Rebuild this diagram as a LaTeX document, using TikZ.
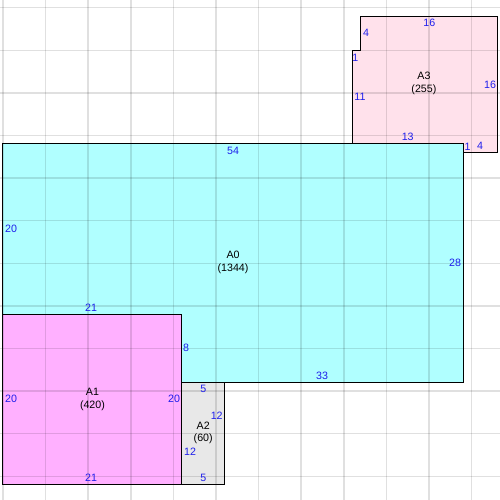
\documentclass[tikz,border=0pt]{standalone}
\usepackage{fontspec}
\setmainfont{Liberation Sans}

\definecolor{areaA0}{RGB}{176,255,255}
\definecolor{areaA1}{RGB}{255,176,255}
\definecolor{areaA2}{RGB}{232,232,232}
\definecolor{areaA3}{RGB}{255,225,235}
\definecolor{sidenum}{RGB}{30,30,235}

\tikzset{
  gridline/.style={color=black, opacity=0.12, line width=1.1pt},
  outline/.style={draw=black, line width=0.75pt},
  sidelabel/.style={text=sidenum, inner sep=0pt, font=\fontsize{8}{9.5}\selectfont},
  arealabel/.style={text=black, inner sep=0pt, align=center, font=\fontsize{8}{9.5}\selectfont}
}

\begin{document}
\begin{tikzpicture}[x=0.2246cm, y=-0.2246cm]

    \useasboundingbox (-0.352, -16.9) rectangle (58.33, 41.78);
    \fill[white] (-0.352, -16.9) rectangle (58.33, 41.78);

        % areas
        \fill[areaA3] (42, -15) -- (58, -15) -- (58, 1) -- (54, 1) -- (54, 0) -- (41, 0) -- (41, -11) -- (42, -11) -- cycle;
        \fill[areaA0] (0, 0) -- (54, 0) -- (54, 28) -- (21, 28) -- (21, 20) -- (0, 20) -- cycle;
        \fill[areaA1] (0, 20) -- (21, 20) -- (21, 40) -- (0, 40) -- cycle;
        \fill[areaA2] (21, 28) -- (26, 28) -- (26, 40) -- (21, 40) -- cycle;

        % grid
        \draw[gridline] (0, -17) -- (0, 42);
        \draw[gridline] (5, -17) -- (5, 42);
        \draw[gridline] (10, -17) -- (10, 42);
        \draw[gridline] (15, -17) -- (15, 42);
        \draw[gridline] (20, -17) -- (20, 42);
        \draw[gridline] (25, -17) -- (25, 42);
        \draw[gridline] (30, -17) -- (30, 42);
        \draw[gridline] (35, -17) -- (35, 42);
        \draw[gridline] (40, -17) -- (40, 42);
        \draw[gridline] (45, -17) -- (45, 42);
        \draw[gridline] (50, -17) -- (50, 42);
        \draw[gridline] (55, -17) -- (55, 42);

        \draw[gridline] (-1, -16) -- (59, -16);
        \draw[gridline] (-1, -11) -- (59, -11);
        \draw[gridline] (-1, -6) -- (59, -6);
        \draw[gridline] (-1, -1) -- (59, -1);
        \draw[gridline] (-1, 4) -- (59, 4);
        \draw[gridline] (-1, 9) -- (59, 9);
        \draw[gridline] (-1, 14) -- (59, 14);
        \draw[gridline] (-1, 19) -- (59, 19);
        \draw[gridline] (-1, 24) -- (59, 24);
        \draw[gridline] (-1, 29) -- (59, 29);
        \draw[gridline] (-1, 34) -- (59, 34);
        \draw[gridline] (-1, 39) -- (59, 39);

        % borders
        \draw[outline] (42, -15) -- (58, -15) -- (58, 1) -- (54, 1) -- (54, 0) -- (41, 0) -- (41, -11) -- (42, -11) -- cycle;
        \draw[outline] (0, 0) -- (54, 0) -- (54, 28) -- (21, 28) -- (21, 20) -- (0, 20) -- cycle;
        \draw[outline] (0, 20) -- (21, 20) -- (21, 40) -- (0, 40) -- cycle;
        \draw[outline] (21, 28) -- (26, 28) -- (26, 40) -- (21, 40) -- cycle;

        % A0
        \node[arealabel] (nameA0) at (27, 13.9) {A0\\(1344)};
        \node[sidelabel] (topA0) at (27, 0.82) {54};
        \node[sidelabel] (leftA0) at (0.94, 9.98) {20};
        \node[sidelabel] (rightA0) at (53.05, 13.97) {28};
        \node[sidelabel] (bottomA0) at (37.44, 27.23) {33};
        \node[sidelabel] (stepA0) at (10.33, 19.25) {21};
        \node[sidelabel] (riseA0) at (21.48, 23.94) {8};

        % A1
        \node[arealabel] (nameA1) at (10.5, 30) {A1\\(420)};
        \node[sidelabel] (leftA1) at (0.94, 29.85) {20};
        \node[sidelabel] (rightA1) at (20.07, 29.9) {20};
        \node[sidelabel] (bottomA1) at (10.33, 39.2) {21};

        % A2
        \node[arealabel] (nameA2) at (23.5, 33.9) {A2\\(60)};
        \node[sidelabel] (topA2) at (23.5, 28.8) {5};
        \node[sidelabel] (rightA2) at (25.08, 31.9) {12};
        \node[sidelabel] (leftA2) at (21.95, 36.1) {12};
        \node[sidelabel] (bottomA2) at (23.5, 39.2) {5};

        % A3
        \node[arealabel] (nameA3) at (49.4, -7.08) {A3\\(255)};
        \node[sidelabel] (topA3) at (50.04, -14.17) {16};
        \node[sidelabel] (notchA3) at (42.6, -12.99) {4};
        \node[sidelabel] (ledgeA3) at (41.35, -10.17) {1};
        \node[sidelabel] (leftA3) at (41.9, -5.48) {11};
        \node[sidelabel] (rightA3) at (57.16, -7.0) {16};
        \node[sidelabel] (bottomA3) at (47.5, -0.86) {13};
        \node[sidelabel] (dropA3) at (54.54, 0.31) {1};
        \node[sidelabel] (footA3) at (55.99, 0.23) {4};

\end{tikzpicture}
\end{document}
